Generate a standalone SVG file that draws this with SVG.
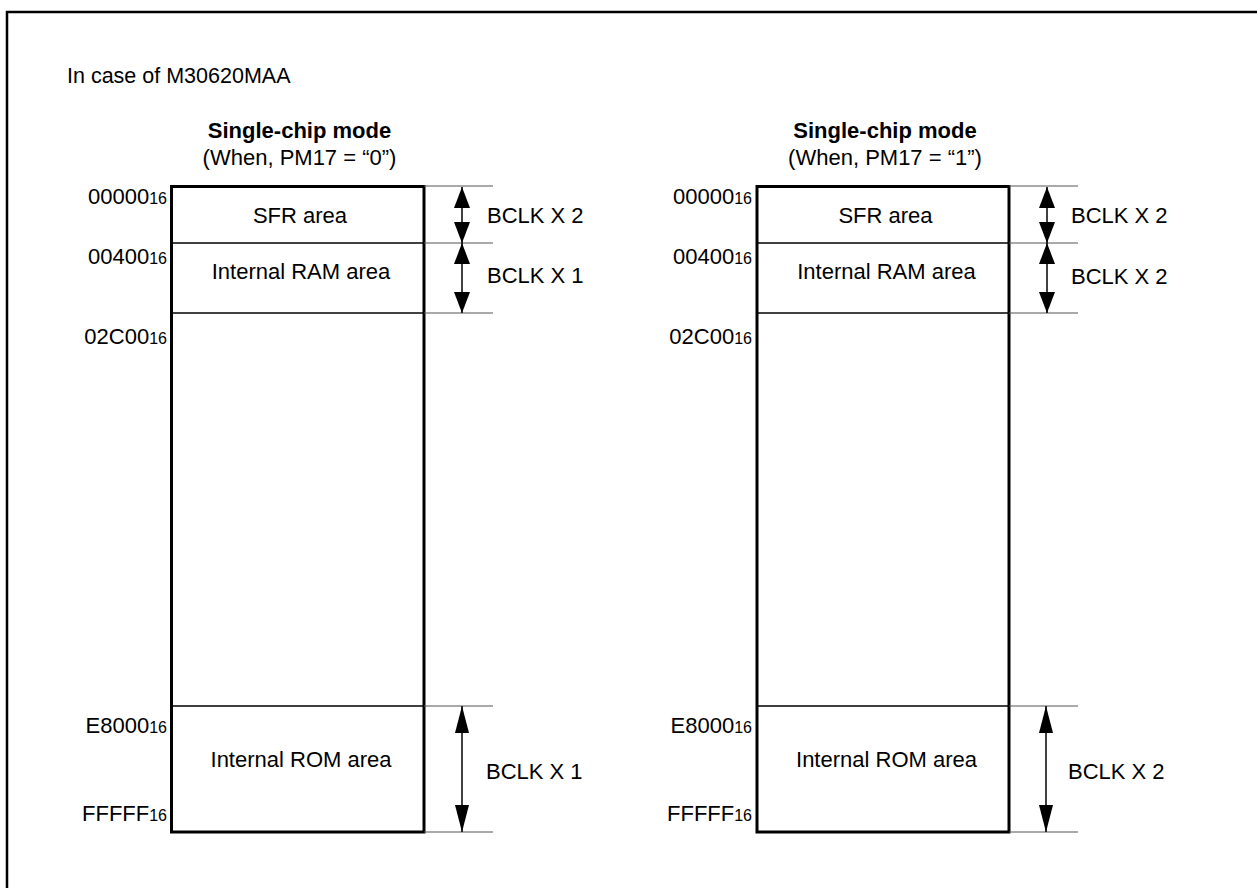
<svg xmlns="http://www.w3.org/2000/svg" width="1257" height="888" viewBox="0 0 1257 888">
<style>
text{font-family:"Liberation Sans",Arial,sans-serif;font-size:22px;fill:#000}
.title{font-size:21.5px}
.hdr{font-weight:bold;text-anchor:middle}
.sub{text-anchor:middle}
.lbl{text-anchor:middle}
.addr{text-anchor:end}
.s16{font-size:16px}
.box{fill:#fff;stroke:#000;stroke-width:3}
.div{stroke:#000;stroke-width:1.5}
.ext{stroke:#555;stroke-width:1}
.arr{stroke:#000;stroke-width:1.5}
.a1{marker-start:url(#hs);marker-end:url(#hs)}
.a2{marker-start:url(#hl);marker-end:url(#hl)}
</style>
<defs>
<marker id="hs" markerUnits="userSpaceOnUse" markerWidth="21" markerHeight="16" refX="21" refY="8" orient="auto-start-reverse">
<path d="M0,0 L21,8 L0,16 Z" fill="#000"/>
</marker>
<marker id="hl" markerUnits="userSpaceOnUse" markerWidth="27" markerHeight="14" refX="27" refY="7" orient="auto-start-reverse">
<path d="M0,0 L27,7 L0,14 Z" fill="#000"/>
</marker>
</defs>
<rect width="1257" height="888" fill="#fff"/>
<g id="frame"><path d="M7,900 V12 H1260" fill="none" stroke="#000" stroke-width="2.5"/></g>
<g id="title"><text class="title" x="67" y="83">In case of M30620MAA</text></g>

<g id="left-header">
<text class="hdr" x="299.5" y="138">Single-chip mode</text>
<text class="sub" x="299.5" y="165">(When, PM17 = “0”)</text>
</g>
<g id="left-map">
<rect class="box" x="171.5" y="186.5" width="252.5" height="645.5"/>
<line class="div" x1="171.5" y1="243" x2="424" y2="243"/>
<line class="div" x1="171.5" y1="313" x2="424" y2="313"/>
<line class="div" x1="171.5" y1="706" x2="424" y2="706"/>
</g>
<g id="left-sfr"><text class="lbl" x="300" y="223">SFR area</text></g>
<g id="left-ram"><text class="lbl" x="301" y="279">Internal RAM area</text></g>
<g id="left-rom"><text class="lbl" x="301" y="767">Internal ROM area</text></g>
<g id="left-addresses">
<text class="addr" x="167" y="204">00000<tspan class="s16">16</tspan></text>
<text class="addr" x="167" y="264">00400<tspan class="s16">16</tspan></text>
<text class="addr" x="167" y="344">02C00<tspan class="s16">16</tspan></text>
<text class="addr" x="167" y="733">E8000<tspan class="s16">16</tspan></text>
<text class="addr" x="167" y="821">FFFFF<tspan class="s16">16</tspan></text>
</g>
<g id="left-bclk">
<text x="487" y="223">BCLK X 2</text>
<text x="487" y="283">BCLK X 1</text>
<text x="486" y="779">BCLK X 1</text>
</g>

<g id="right-header">
<text class="hdr" x="885" y="138">Single-chip mode</text>
<text class="sub" x="885" y="165">(When, PM17 = “1”)</text>
</g>
<g id="right-map">
<rect class="box" x="757" y="186.5" width="252" height="645.5"/>
<line class="div" x1="757" y1="243" x2="1009" y2="243"/>
<line class="div" x1="757" y1="313" x2="1009" y2="313"/>
<line class="div" x1="757" y1="706" x2="1009" y2="706"/>
</g>
<g id="right-sfr"><text class="lbl" x="885.5" y="223">SFR area</text></g>
<g id="right-ram"><text class="lbl" x="886.5" y="279">Internal RAM area</text></g>
<g id="right-rom"><text class="lbl" x="886.5" y="767">Internal ROM area</text></g>
<g id="right-addresses">
<text class="addr" x="752" y="204">00000<tspan class="s16">16</tspan></text>
<text class="addr" x="752" y="264">00400<tspan class="s16">16</tspan></text>
<text class="addr" x="752" y="344">02C00<tspan class="s16">16</tspan></text>
<text class="addr" x="752" y="733">E8000<tspan class="s16">16</tspan></text>
<text class="addr" x="752" y="821">FFFFF<tspan class="s16">16</tspan></text>
</g>
<g id="right-bclk">
<text x="1071" y="223">BCLK X 2</text>
<text x="1071" y="284">BCLK X 2</text>
<text x="1068" y="779">BCLK X 2</text>
</g>

<g id="connectors">
<line class="ext" x1="424" y1="186" x2="493" y2="186"/>
<line class="ext" x1="424" y1="243" x2="493" y2="243"/>
<line class="ext" x1="424" y1="313" x2="493" y2="313"/>
<line class="ext" x1="424" y1="706" x2="493" y2="706"/>
<line class="ext" x1="424" y1="832" x2="493" y2="832"/>
<line class="arr a1" x1="462" y1="187" x2="462" y2="243"/>
<line class="arr a1" x1="462" y1="243" x2="462" y2="313"/>
<line class="arr a2" x1="462" y1="706" x2="462" y2="832"/>
<line class="ext" x1="1009" y1="186" x2="1078" y2="186"/>
<line class="ext" x1="1009" y1="243" x2="1078" y2="243"/>
<line class="ext" x1="1009" y1="313" x2="1078" y2="313"/>
<line class="ext" x1="1009" y1="706" x2="1078" y2="706"/>
<line class="ext" x1="1009" y1="832" x2="1078" y2="832"/>
<line class="arr a1" x1="1047" y1="187" x2="1047" y2="243"/>
<line class="arr a1" x1="1047" y1="243" x2="1047" y2="313"/>
<line class="arr a2" x1="1046" y1="706" x2="1046" y2="832"/>
</g>
</svg>
